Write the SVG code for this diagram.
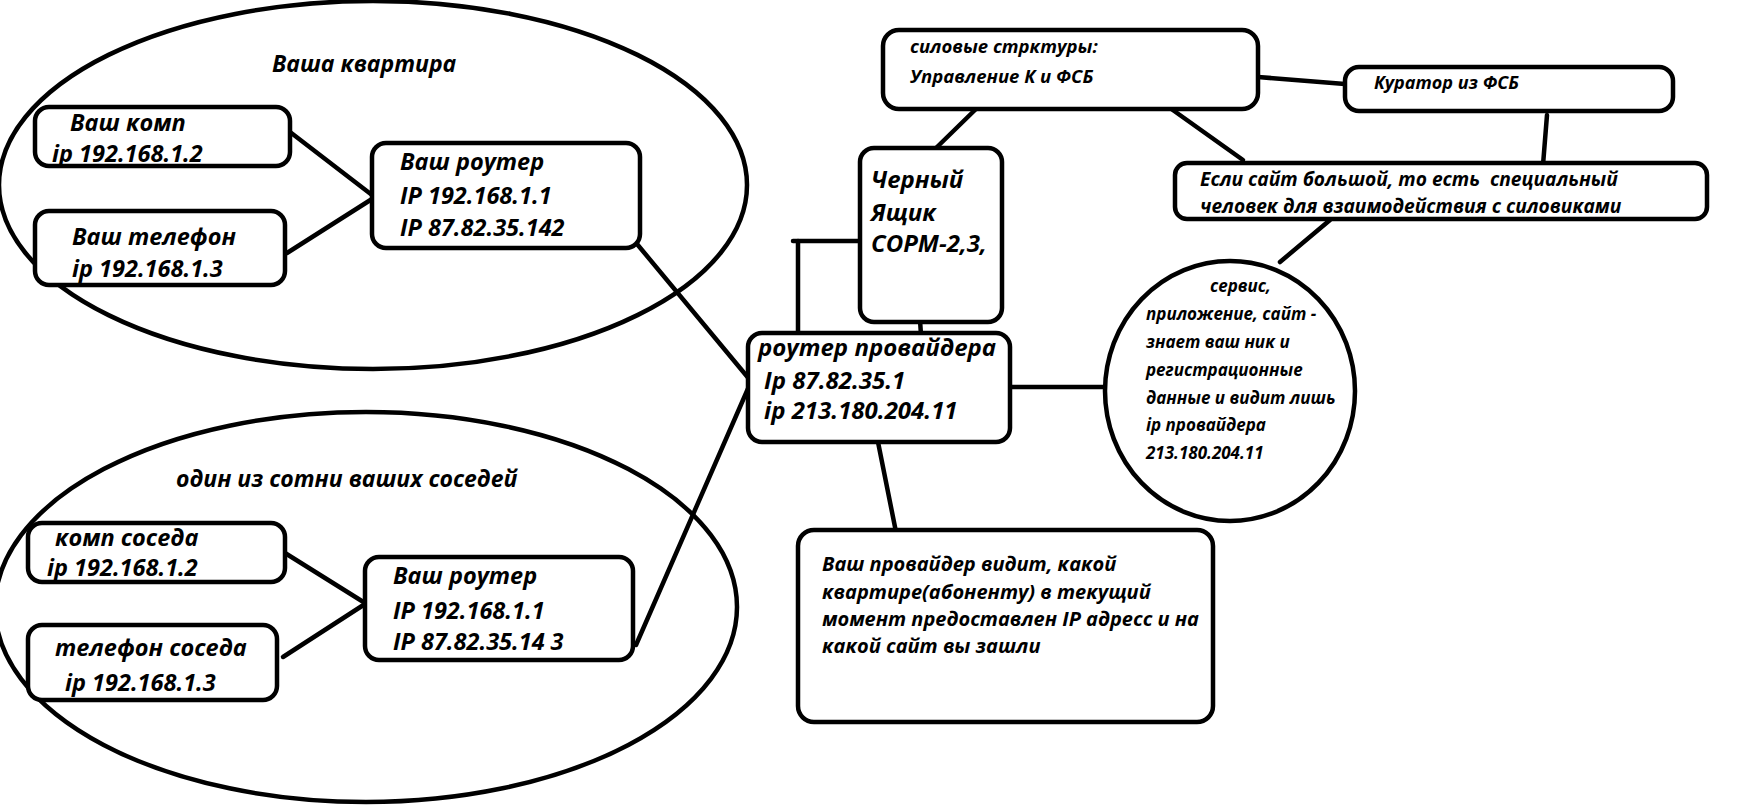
<svg xmlns="http://www.w3.org/2000/svg" width="1754" height="812" viewBox="0 0 1754 812">
<style>
.s{fill:none;stroke:#000;stroke-width:4.5}
.b{fill:#fff;stroke:#000;stroke-width:4.5}
.c{stroke:#000;stroke-width:4.5;fill:none;stroke-linecap:round}
text{font-family:"Open Sans","Liberation Sans",sans-serif;font-weight:bold;font-style:italic;fill:#000}
.tt{font-size:23px}
.tb{font-size:23.5px}
.tp{font-size:24px}
.tn{font-size:20px}
.te{font-size:19.2px}
.tc{font-size:17px}
.ts{font-size:18.5px}
.tk{font-size:18px}
</style>
<rect width="1754" height="812" fill="#fff"/>
<g id="apartment">
<ellipse class="s" cx="373" cy="185" rx="374" ry="184"/>
<text class="tt" x="272" y="72">Ваша квартира</text>
</g>
<g id="neighbors">
<ellipse class="s" cx="366" cy="607" rx="371" ry="195"/>
<text class="tt" x="176" y="487">один из сотни ваших соседей</text>
</g>
<g id="connectors">
<line class="c" x1="290" y1="132" x2="372" y2="195"/>
<line class="c" x1="287" y1="253" x2="372" y2="199"/>
<line class="c" x1="285" y1="553" x2="365" y2="603"/>
<line class="c" x1="283" y1="657" x2="365" y2="604"/>
<line class="c" x1="637" y1="244" x2="750" y2="380"/>
<line class="c" x1="636" y1="645" x2="750" y2="384"/>
<line class="c" x1="793" y1="241" x2="860" y2="241"/>
<line class="c" x1="798" y1="241" x2="798" y2="333"/>
<line class="c" x1="920" y1="320" x2="921" y2="335"/>
<line class="c" x1="1010" y1="387" x2="1106" y2="387"/>
<line class="c" x1="878" y1="442" x2="896" y2="532"/>
<line class="c" x1="977" y1="108" x2="935" y2="149"/>
<line class="c" x1="1170" y1="108" x2="1243" y2="160"/>
<line class="c" x1="1258" y1="77" x2="1345" y2="84"/>
<line class="c" x1="1547" y1="115" x2="1543" y2="165"/>
<line class="c" x1="1330" y1="220" x2="1280" y2="262"/>
</g>
<g id="my-pc">
<rect class="b" x="35" y="107" width="255" height="59" rx="14"/>
<text class="tb" x="70" y="131">Ваш комп</text>
<text class="tb" x="52" y="162">ip 192.168.1.2</text>
</g>
<g id="my-phone">
<rect class="b" x="35" y="211" width="250" height="74" rx="14"/>
<text class="tb" x="72" y="245">Ваш телефон</text>
<text class="tb" x="72" y="277">ip 192.168.1.3</text>
</g>
<g id="my-router">
<rect class="b" x="372" y="143" width="268" height="105" rx="14"/>
<text class="tb" x="400" y="170">Ваш роутер</text>
<text class="tb" x="400" y="204">IP 192.168.1.1</text>
<text class="tb" x="400" y="236">IP 87.82.35.142</text>
</g>
<g id="neighbor-pc">
<rect class="b" x="28" y="523" width="257" height="59" rx="14"/>
<text class="tb" x="55" y="546">комп соседа</text>
<text class="tb" x="47" y="576">ip 192.168.1.2</text>
</g>
<g id="neighbor-phone">
<rect class="b" x="28" y="625" width="249" height="75" rx="14"/>
<text class="tb" x="55" y="656">телефон соседа</text>
<text class="tb" x="65" y="691">ip 192.168.1.3</text>
</g>
<g id="neighbor-router">
<rect class="b" x="365" y="557" width="268" height="103" rx="14"/>
<text class="tb" x="393" y="584">Ваш роутер</text>
<text class="tb" x="393" y="619">IP 192.168.1.1</text>
<text class="tb" x="393" y="650">IP 87.82.35.14<tspan dx="6">3</tspan></text>
</g>
<g id="black-box">
<rect class="b" x="860" y="148" width="142" height="174" rx="14"/>
<text class="tp" x="871" y="188">Черный</text>
<text class="tp" x="871" y="221">Ящик</text>
<text class="tp" x="871" y="252">СОРМ-2,3,</text>
</g>
<g id="provider-router">
<rect class="b" x="748" y="333" width="262" height="109" rx="14"/>
<text class="tp" x="758" y="356">роутер провайдера</text>
<text class="tp" x="764" y="389">Ip 87.82.35.1</text>
<text class="tp" x="764" y="419">ip 213.180.204.11</text>
</g>
<g id="provider-note">
<rect class="b" x="798" y="530" width="415" height="192" rx="16"/>
<text class="tn" x="822" y="571">Ваш провайдер видит, какой</text>
<text class="tn" x="822" y="599">квартире(абоненту) в текущий</text>
<text class="tn" x="822" y="626">момент предоставлен IP адресс и на</text>
<text class="tn" x="822" y="653">какой сайт вы зашли</text>
</g>
<g id="security-services">
<rect class="b" x="883" y="30" width="375" height="79" rx="16"/>
<text class="ts" x="910" y="53">силовые стрктуры:</text>
<text class="ts" x="910" y="83">Управление К и ФСБ</text>
</g>
<g id="curator">
<rect class="b" x="1345" y="67" width="328" height="44" rx="14"/>
<text class="tk" x="1374" y="89">Куратор из ФСБ</text>
</g>
<g id="big-site">
<rect class="b" x="1175" y="163" width="532" height="56" rx="12"/>
<text class="te" x="1200" y="186" xml:space="preserve">Если сайт большой, то есть  специальный</text>
<text class="te" x="1200" y="213">человек для взаимодействия с силовиками</text>
</g>
<g id="service">
<ellipse class="b" cx="1230" cy="391" rx="125" ry="130"/>
<text class="tc" x="1210" y="292">сервис,</text>
<text class="tc" x="1146" y="320">приложение, сайт -</text>
<text class="tc" x="1146" y="348">знает ваш ник и</text>
<text class="tc" x="1146" y="376">регистрационные</text>
<text class="tc" x="1146" y="404">данные и видит лишь</text>
<text class="tc" x="1146" y="431">ip провайдера</text>
<text class="tc" x="1146" y="459">213.180.204.11</text>
</g>
</svg>
